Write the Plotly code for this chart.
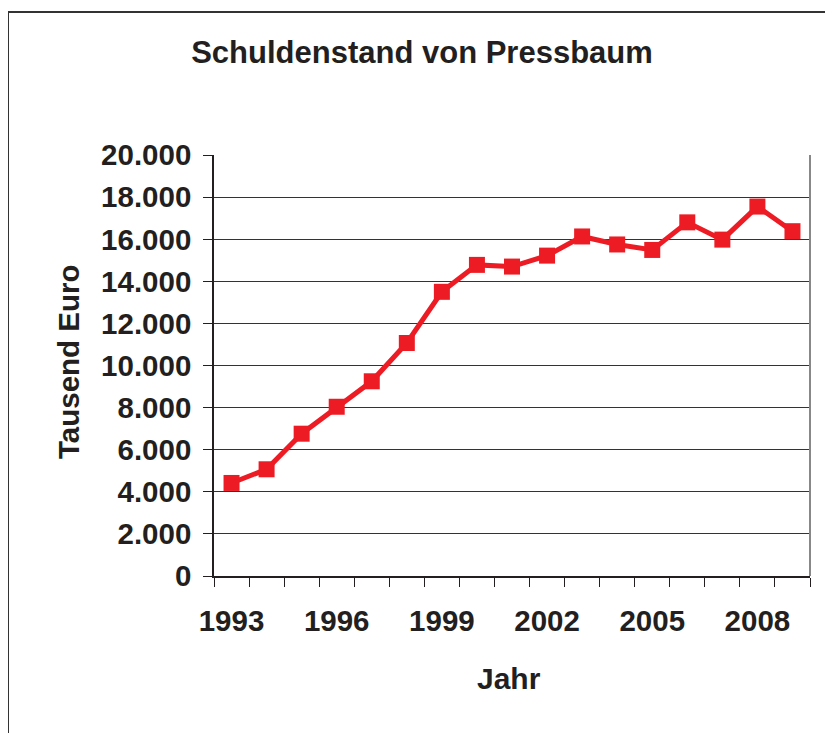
import plotly.graph_objects as go

years = [1993, 1994, 1995, 1996, 1997, 1998, 1999, 2000, 2001, 2002,
         2003, 2004, 2005, 2006, 2007, 2008, 2009]
debt = [4420, 5070, 6760, 8040, 9250, 11070, 13500, 14780, 14700, 15220,
        16130, 15750, 15490, 16800, 15980, 17550, 16380]
year_ticks = [1993, 1996, 1999, 2002, 2005, 2008]
y_ticks = [0, 2000, 4000, 6000, 8000, 10000, 12000, 14000, 16000, 18000, 20000]

# page has an 8px body margin; compensate so the figure lines up with the window
OFF = 8
W, H = 833 - OFF, 733 - OFF
ML, MR, MT, MB = 214 - OFF, 23, 155 - OFF, 157
PW = W - ML - MR
PH = H - MT - MB

FONT = "Liberation Sans, Arial, sans-serif"
TXT = "#231f20"

def px_x(p):
    return (p - OFF - ML) / PW

def px_y(p):
    return (H - MB - (p - OFF)) / PH

fig = go.Figure()
fig.add_trace(go.Scatter(
    x=years, y=debt, mode="lines+markers",
    line=dict(color="#ed1c24", width=5),
    marker=dict(symbol="square", size=16, color="#ed1c24"),
    showlegend=False, hoverinfo="skip",
))

fig.update_layout(
    width=W, height=H,
    margin=dict(l=ML, r=MR, t=MT, b=MB),
    paper_bgcolor="white", plot_bgcolor="white",
    separators=",.",
    font=dict(family=FONT, size=29, color=TXT, weight="bold"),
    title=dict(text="Schuldenstand von Pressbaum", x=(422 - OFF) / W, xanchor="center",
               y=1 - (52 - OFF) / H, yanchor="middle",
               font=dict(family=FONT, size=31, color=TXT, weight="bold")),
)

fig.update_xaxes(
    range=[1992.5, 2009.5], tickmode="array", tickvals=year_ticks,
    ticktext=[str(v) for v in year_ticks],
    ticks="outside", ticklen=0, ticklabelstandoff=18,
    showgrid=False, zeroline=False,
    showline=True, linecolor="#231f20", linewidth=1.5,
    tickfont=dict(family=FONT, size=29.5, color=TXT, weight="bold"),
    minor=dict(tick0=1992.5, dtick=1, ticks="outside", ticklen=9,
               tickcolor="#231f20", tickwidth=1, showgrid=False),
)
fig.update_yaxes(
    range=[0, 20000], tickmode="array", tickvals=y_ticks, tickformat=",d",
    ticks="outside", ticklen=9, tickcolor="#231f20", tickwidth=1,
    ticklabelstandoff=6,
    showgrid=True, gridcolor="#333333", gridwidth=1.2,
    zeroline=False, showline=True, linecolor="#231f20", linewidth=1.5,
    tickfont=dict(family=FONT, size=29.5, color=TXT, weight="bold"),
)

# right border of plot area
fig.add_shape(type="line", xref="paper", yref="paper", x0=1, x1=1, y0=0, y1=1,
              line=dict(color="#888888", width=2))
# outer chart frame (top and left visible)
fig.add_shape(type="line", xref="paper", yref="paper",
              x0=px_x(8), x1=px_x(840), y0=px_y(12), y1=px_y(12),
              line=dict(color="#333333", width=2))
fig.add_shape(type="line", xref="paper", yref="paper",
              x0=px_x(8), x1=px_x(8), y0=px_y(12), y1=px_y(740),
              line=dict(color="#333333", width=2))

fig.add_annotation(text="Tausend Euro", textangle=-90, xref="paper", yref="paper",
                   x=px_x(68), y=px_y(362), xanchor="center", yanchor="middle",
                   showarrow=False,
                   font=dict(family=FONT, size=29.5, color=TXT, weight="bold"))
fig.add_annotation(text="Jahr", xref="paper", yref="paper",
                   x=px_x(509), y=px_y(678), xanchor="center", yanchor="middle",
                   showarrow=False,
                   font=dict(family=FONT, size=30, color=TXT, weight="bold"))

fig.write_html("out.html")
